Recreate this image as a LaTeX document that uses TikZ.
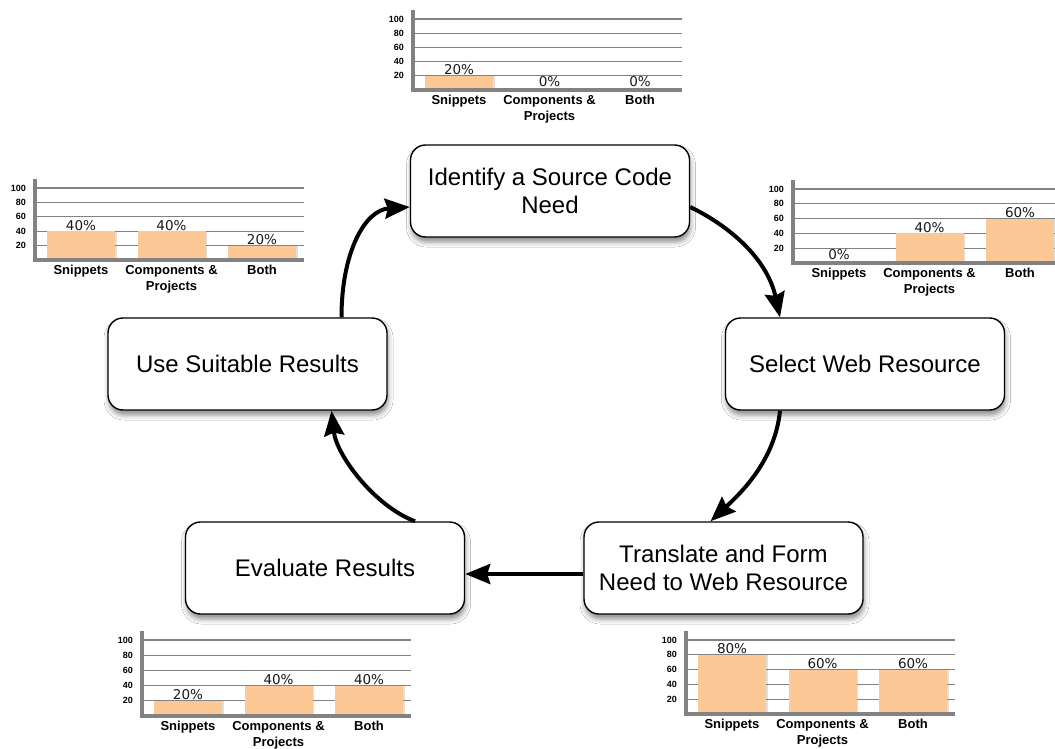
\documentclass[tikz,border=0pt]{standalone}
\usepackage{fontspec}
\setmainfont{Liberation Sans}
\newfontfamily\valfont{DejaVu Sans}
\usetikzlibrary{arrows.meta,shadows,shadows.blur}

\definecolor{barfill}{RGB}{252,201,150}
\definecolor{axisgray}{RGB}{130,130,130}
\definecolor{gridgray}{RGB}{130,130,130}

\tikzset{
  stage/.style={draw=black, line width=1.4pt, fill=white, rounded corners=15pt,
    minimum width=279pt, minimum height=92pt, inner sep=0pt, align=center,
    font=\fontsize{24}{28}\selectfont,
    blur shadow={shadow xshift=1pt, shadow yshift=-5pt, shadow blur radius=5pt, shadow opacity=45}},
  flow/.style={line width=4pt, -{Stealth[length=25pt,width=20pt,inset=3pt]}},
  gridline/.style={draw=gridgray, line width=1.2pt},
  axisline/.style={draw=axisgray, line width=3.5pt},
  ytick/.style={anchor=east, inner sep=0pt, font=\bfseries\fontsize{9}{10}\selectfont},
  vallabel/.style={anchor=base, inner sep=0pt, text=black!90, font=\valfont\fontsize{13.5}{16}\selectfont},
  catlabel/.style={anchor=north, inner sep=0pt, align=center, font=\bfseries\fontsize{13}{16}\selectfont},
  bar/.style={fill=barfill, drop shadow={shadow xshift=1.5pt, shadow yshift=0pt, opacity=0.25}}
}

% Bar chart: #1 name, #2 axis x, #3 baseline y, #4 height of 20 units, #5-#7 values
\newcommand\sharechart[7]{%
  \begin{scope}[shift={(#2,#3)}]
    \foreach \k in {1,...,5}{
      \draw[gridline] (0,{-\k*#4}) -- (269,{-\k*#4});
      \pgfmathtruncatemacro\tick{20*\k}
      \node[ytick] (#1-t\k) at (-9,{-\k*#4}) {\tick};
    }
    \foreach \v [count=\i from 0] in {#5,#6,#7}{
      \pgfmathsetmacro\cx{46+90.5*\i}
      \ifnum\v>0
        \fill[bar] ({\cx-34},0) rectangle ({\cx+34},{-\v*#4/20});
        \node[vallabel] (#1-v\i) at (\cx,{-\v*#4/20-1}) {\v\%};
      \else
        \node[vallabel] (#1-v\i) at (\cx,-3.5) {\v\%};
      \fi
    }
    \draw[axisline] (0,{-5*#4-9}) -- (0,0) -- (269,0);
    \node[catlabel] (#1-c0) at (46,5) {Snippets};
    \node[catlabel] (#1-c1) at (136.5,5) {Components \&\\Projects};
    \node[catlabel] (#1-c2) at (227,5) {Both};
  \end{scope}}

\begin{document}
\begin{tikzpicture}[x=1pt,y=-1pt]
  \clip (0,0) rectangle (1055,749);
  \fill[white] (0,0) rectangle (1055,749);

  % charts of result types at each stage
  \sharechart{chid}{413}{90}{14.2}{20}{0}{0}
  \sharechart{chuse}{35}{260}{14.4}{40}{40}{20}
  \sharechart{chsel}{793}{263}{14.8}{0}{40}{60}
  \sharechart{chev}{142}{716}{15.2}{20}{40}{40}
  \sharechart{chtr}{686}{714}{14.8}{80}{60}{60}

  % process stages
  \node[stage] (id)  at (550,191) {Identify a Source Code\\Need};
  \node[stage] (sel) at (865,364) {Select Web Resource};
  \node[stage] (tr)  at (723.5,568) {Translate and Form\\Need to Web Resource};
  \node[stage] (ev)  at (325,568) {Evaluate Results};
  \node[stage] (use) at (247.5,364) {Use Suitable Results};

  % cycle
  \draw[flow] ([yshift=-16pt]id.east) .. controls +(45,22) and +(-12,-55) .. ([xshift=-85pt]sel.north);
  \draw[flow] ([xshift=-85pt]sel.south) .. controls +(-5,50) and +(30,-28) .. ([xshift=-13pt]tr.north);
  \draw[flow] ([yshift=-6pt]tr.west) -- ([yshift=-6pt]ev.east);
  \draw[flow] ([xshift=90pt]ev.north) .. controls +(-40,-15) and +(5,45) .. ([xshift=84pt]use.south);
  \draw[flow] ([xshift=94pt]use.north) .. controls +(0,-65) and +(-45,3) .. ([yshift=-16pt]id.west);
\end{tikzpicture}
\end{document}
